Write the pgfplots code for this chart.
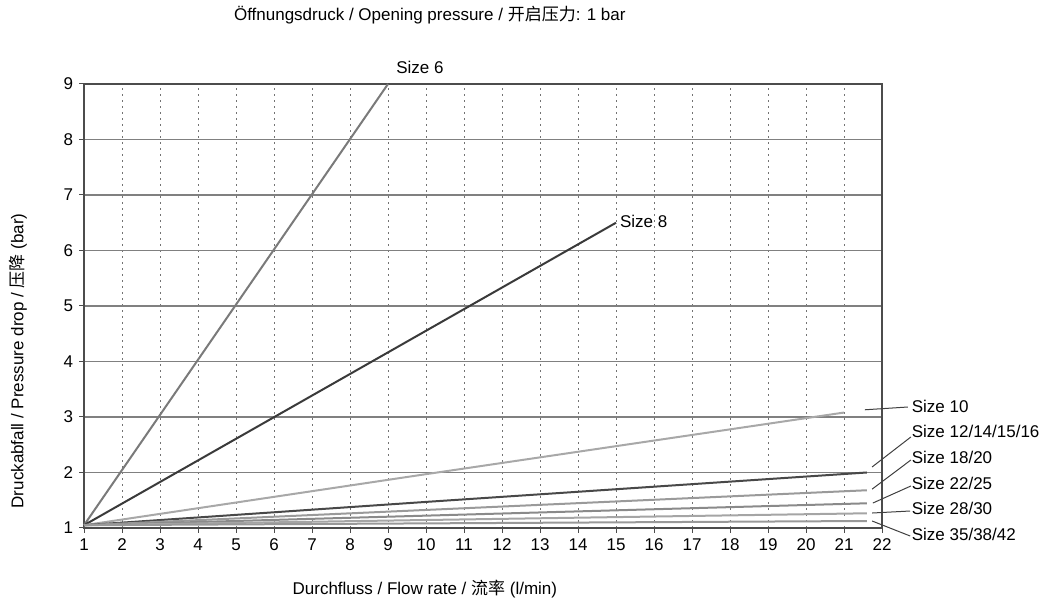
\documentclass[border=0pt]{standalone}
\usepackage{pgfplots}
\pgfplotsset{compat=1.18}
\usepackage{fontspec}
\setmainfont{Liberation Sans}
\newfontfamily\cjk{Noto Sans CJK SC}
\definecolor{cSix}{HTML}{7A7A7A}
\definecolor{cEight}{HTML}{3A3A3A}
\definecolor{cTen}{HTML}{A8A8A8}
\definecolor{cTwelve}{HTML}{484848}
\definecolor{cEighteen}{HTML}{9A9A9A}
\definecolor{cTwentyTwo}{HTML}{8A8A8A}
\definecolor{cTwentyEight}{HTML}{A5A5A5}
\definecolor{cThirtyFive}{HTML}{999999}
\definecolor{leader}{HTML}{404040}
\begin{document}
\fontsize{17}{20}\selectfont
\begin{tikzpicture}
\useasboundingbox (-84pt,-73pt) rectangle (959pt,528pt);
\begin{axis}[
  at={(0,0)}, anchor=south west,
  scale only axis, width=798pt, height=444pt,
  xmin=1, xmax=22, ymin=1, ymax=9,
  xtick={1,...,22}, ytick={1,...,9},
  tick align=outside, major tick length=5pt,
  xtick pos=bottom, ytick pos=left,
  tick style={color=black!70, line width=1pt},
  axis line style={color=black!70, line width=1.5pt},
  xmajorgrids, ymajorgrids,
  x grid style={color=black!55, line width=1pt, dash pattern=on 1.5pt off 4.5pt},
  y grid style={color=black!50, line width=1.2pt},
  ticklabel style={font=\fontsize{17}{20}\selectfont},
  /pgf/number format/assume math mode=true,
  clip=false,
  every axis plot/.append style={line width=2pt, line join=round},
]
\addplot[cSix] coordinates {(1,1.05) (9,9)};
\addplot[cEight] coordinates {(1,1.05) (15,6.5)};
\addplot[cTen] coordinates {(1,1.05) (10,1.97) (21,3.08)};
\addplot[cTwelve] coordinates {(1,1.05) (10,1.47) (21.6,2.0)};
\addplot[cEighteen] coordinates {(1,1.05) (21.6,1.68)};
\addplot[cTwentyTwo] coordinates {(1,1.05) (21.6,1.445)};
\addplot[cTwentyEight] coordinates {(1,1.05) (21.6,1.265)};
\addplot[cThirtyFive] coordinates {(1,1.05) (21.6,1.126)};
% leader lines
\draw[leader, line width=1pt] (axis cs:21.55,3.13) -- (axis cs:22.68,3.18);
\draw[leader, line width=1pt] (axis cs:21.74,2.10) -- (axis cs:22.76,2.64);
\draw[leader, line width=1pt] (axis cs:21.74,1.70) -- (axis cs:22.76,2.225);
\draw[leader, line width=1pt] (axis cs:21.76,1.45) -- (axis cs:22.76,1.757);
\draw[leader, line width=1pt] (axis cs:21.74,1.27) -- (axis cs:22.74,1.306);
\draw[leader, line width=1pt] (axis cs:21.74,1.126) -- (axis cs:22.74,0.856);
% labels
\node[anchor=west, inner sep=0pt] at (axis cs:22.78,3.186) {Size 10};
\node[anchor=west, inner sep=0pt] at (axis cs:22.78,2.735) {Size 12/14/15/16};
\node[anchor=west, inner sep=0pt] at (axis cs:22.78,2.28) {Size 18/20};
\node[anchor=west, inner sep=0pt] at (axis cs:22.78,1.81) {Size 22/25};
\node[anchor=west, inner sep=0pt] at (axis cs:22.78,1.36) {Size 28/30};
\node[anchor=west, inner sep=0pt] at (axis cs:22.78,0.89) {Size 35/38/42};
\node[inner sep=0pt] at (axis cs:9.84,9.29) {Size 6};
\node[anchor=west, inner sep=0pt] at (axis cs:15.1,6.52) {Size 8};
% titles
\node[inner sep=0pt] at (axis cs:10.1,10.24) {Öffnungsdruck / Opening pressure / {\cjk 开启压力}: 1 bar};
\node[inner sep=0pt] at (axis cs:9.97,-0.10) {Durchfluss / Flow rate / {\cjk 流率} (l/min)};
\node[inner sep=0pt, rotate=90] at (axis cs:-0.74,4.01) {Druckabfall / Pressure drop / {\cjk 压降} (bar)};
\end{axis}
\end{tikzpicture}
\end{document}
